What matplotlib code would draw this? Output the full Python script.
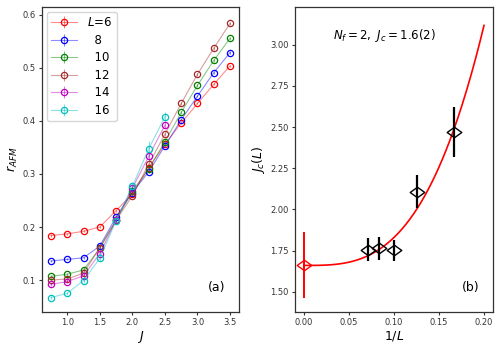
import numpy as np
import matplotlib
matplotlib.use("Agg")
import matplotlib.pyplot as plt
from matplotlib.path import Path

# ---- panel (a) data ----
J_full = [0.75, 1.0, 1.25, 1.5, 1.75, 2.0, 2.25, 2.5, 2.75, 3.0, 3.25, 3.5]
J_short = [0.75, 1.0, 1.25, 1.5, 1.75, 2.0, 2.25, 2.5]
r_L6 = [0.184, 0.187, 0.192, 0.200, 0.231, 0.262, 0.312, 0.356, 0.396, 0.433, 0.469, 0.504]
r_L8 = [0.136, 0.139, 0.142, 0.164, 0.219, 0.265, 0.304, 0.353, 0.402, 0.447, 0.491, 0.529]
r_L10 = [0.107, 0.111, 0.119, 0.160, 0.213, 0.268, 0.309, 0.361, 0.416, 0.467, 0.514, 0.556]
r_L12 = [0.100, 0.102, 0.113, 0.161, 0.213, 0.259, 0.318, 0.375, 0.433, 0.488, 0.537, 0.584]
r_L14 = [0.092, 0.097, 0.108, 0.150, 0.213, 0.273, 0.333, 0.392]
r_L16 = [0.067, 0.075, 0.099, 0.141, 0.212, 0.277, 0.347, 0.408]
e_L6 = [0.002] * 12
e_L8 = [0.002] * 12
e_L10 = [0.003] * 12
e_L12 = [0.003] * 12
e_L14 = [0.003, 0.003, 0.004, 0.005, 0.005, 0.006, 0.008, 0.006]
e_L16 = [0.003, 0.003, 0.004, 0.005, 0.006, 0.008, 0.015, 0.008]
labels_a = ["$L$=6", "  8", "  10", "  12", "  14", "  16"]
colors_a = ["red", "blue", "green", "brown", "m", "c"]

# ---- panel (b) data ----
invL = [1/14, 1/12, 1/10, 1/8, 1/6]
Jc_L = [1.756, 1.764, 1.752, 2.107, 2.470]
Jc_err = [0.068, 0.070, 0.065, 0.100, 0.150]
Jc_inf = 1.665
Jc_inf_err = 0.20
fit_Jc, fit_a, fit_b = 1.66, 214.0, 3.1

fig = plt.figure(figsize=(5.0, 3.45), dpi=100)
ax1 = fig.add_axes([0.084, 0.096, 0.394, 0.884])
ax2 = fig.add_axes([0.590, 0.096, 0.396, 0.884])

series = [(J_full, r_L6, e_L6), (J_full, r_L8, e_L8), (J_full, r_L10, e_L10),
          (J_full, r_L12, e_L12), (J_short, r_L14, e_L14), (J_short, r_L16, e_L16)]
for (x, y, e), c, lab in zip(series, colors_a, labels_a):
    rgba = matplotlib.colors.to_rgba(c)
    light = (rgba[0], rgba[1], rgba[2], 0.45)
    ax1.errorbar(x, y, yerr=e, fmt='-o', color=light, mec=c, mfc='none',
                 ms=4.5, mew=0.9, lw=0.8, ecolor=(rgba[0], rgba[1], rgba[2], 0.5),
                 elinewidth=0.8, label=lab)

leg = ax1.legend(loc='upper left', fontsize=8.5, handlelength=2.2,
                 labelspacing=0.38, borderaxespad=0.4, frameon=True)
ax1.set_xlim(0.6125, 3.6375)
ax1.set_ylim(0.040, 0.615)
ax1.set_xticks([1.0, 1.5, 2.0, 2.5, 3.0, 3.5])
ax1.set_yticks([0.1, 0.2, 0.3, 0.4, 0.5, 0.6])
ax1.set_xlabel("$J$", fontsize=9, labelpad=1)
ax1.set_ylabel("$r_{AFM}$", fontsize=9, labelpad=2)
ax1.text(0.93, 0.06, "(a)", transform=ax1.transAxes, ha='right', va='bottom', fontsize=9)

# panel (b)
diamond = Path([(-1, 0), (0, 0.72), (1, 0), (0, -0.72), (-1, 0)],
               [Path.MOVETO, Path.LINETO, Path.LINETO, Path.LINETO, Path.CLOSEPOLY])
xf = np.linspace(0.0, 0.2, 200)
ax2.plot(xf, fit_Jc + fit_a * xf ** fit_b, color='red', lw=1.2, zorder=2)
ax2.errorbar(invL, Jc_L, yerr=Jc_err, fmt='none', ecolor='black', elinewidth=1.6, zorder=3)
ax2.plot(invL, Jc_L, ls='none', marker=diamond, ms=10.5, mfc='none', mec='black', mew=1.0, zorder=4)
ax2.errorbar([0.0], [Jc_inf], yerr=[Jc_inf_err], fmt='none', ecolor='red', elinewidth=1.4, zorder=3)
ax2.plot([0.0], [Jc_inf], ls='none', marker=diamond, ms=10.5, mfc='none', mec='red', mew=1.0, zorder=4)

ax2.set_xlim(-0.01, 0.21)
ax2.set_ylim(1.378, 3.23)
ax2.set_xticks([0.0, 0.05, 0.1, 0.15, 0.2])
ax2.set_xticklabels(["0.00", "0.05", "0.10", "0.15", "0.20"])
ax2.set_yticks([1.5, 1.75, 2.0, 2.25, 2.5, 2.75, 3.0])
ax2.set_yticklabels(["1.50", "1.75", "2.00", "2.25", "2.50", "2.75", "3.00"])
ax2.set_xlabel("$1/L$", fontsize=9, labelpad=1)
ax2.set_ylabel("$J_c(L)$", fontsize=9, labelpad=2)
ax2.text(0.45, 0.905, "$N_f = 2,\\ J_c = 1.6(2)$", transform=ax2.transAxes,
         ha='center', va='center', fontsize=8.5)
ax2.text(0.93, 0.06, "(b)", transform=ax2.transAxes, ha='right', va='bottom', fontsize=9)

for ax in (ax1, ax2):
    ax.tick_params(labelsize=6, length=2.5, width=0.8, pad=2, colors='#333333')
    for s in ax.spines.values():
        s.set_color('#333333')
        s.set_linewidth(0.9)

fig.savefig("out.png", dpi=100)
